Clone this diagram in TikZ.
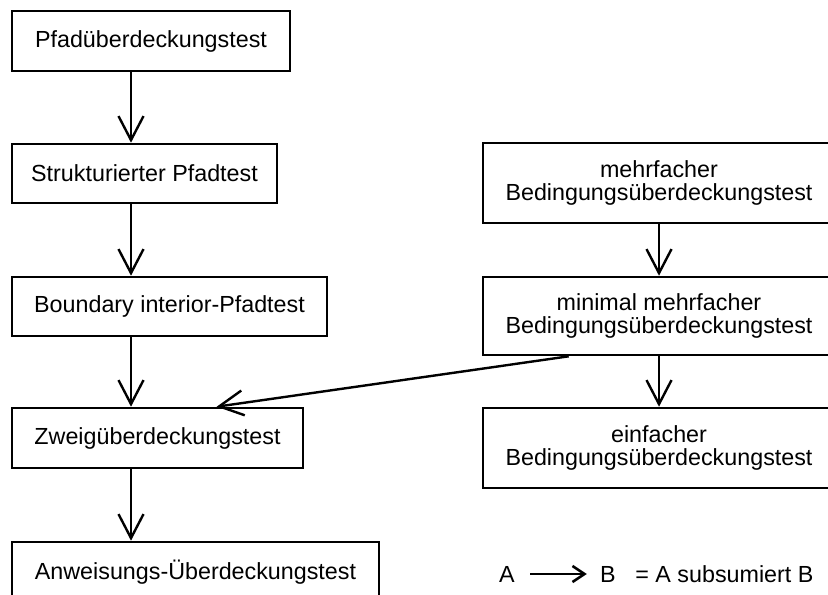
\documentclass[tikz,border=0pt]{standalone}
\usepackage{fontspec}
\setmainfont{Liberation Sans}
\usetikzlibrary{arrows.meta,calc}

\tikzset{
  box/.style={draw, line width=1.3pt, rectangle, inner sep=0pt, align=center,
    font=\fontsize{11.65}{11.8}\selectfont},
  sub/.style={line width=1.2pt, -{Straight Barb[length=12pt,width=12.5pt,line width=1.2pt]}},
  legtext/.style={inner sep=0pt, anchor=base, font=\fontsize{11.65}{11.8}\selectfont},
  legarrow/.style={line width=1.2pt, -{Straight Barb[length=6pt,width=8pt,line width=1.3pt]}}
}

\begin{document}
\begin{tikzpicture}[x=0.5pt, y=-0.5pt]
  \useasboundingbox (0,0) rectangle (828,594);
  \clip (0,0) rectangle (828,594);

  % left column
  \node[box, minimum width=139pt, minimum height=30pt]   (pfad)  at (151,41)    {Pfadüberdeckungstest};
  \node[box, minimum width=132.5pt, minimum height=29.5pt] (strukt) at (144.5,173.5) {Strukturierter Pfadtest};
  \node[box, minimum width=157.5pt, minimum height=29.5pt] (bound) at (169.5,306.5) {Boundary interior-Pfadtest};
  \node[box, minimum width=145.5pt, minimum height=30pt] (zweig) at (157.5,438)  {Zweigüberdeckungstest};
  \node[box, minimum width=183.5pt, minimum height=30pt] (anw)   at (195.5,572)  {Anweisungs-Überdeckungstest};

  % right column
  \node[box, minimum width=176pt, minimum height=40pt]   (mehr)  at (659,183) {mehrfacher\\Bedingungsüberdeckungstest};
  \node[box, minimum width=176pt, minimum height=39pt]   (mmehr) at (659,316) {minimal mehrfacher\\Bedingungsüberdeckungstest};
  \node[box, minimum width=176pt, minimum height=40pt]   (einf)  at (659,448) {einfacher\\Bedingungsüberdeckungstest};

  % subsumption arrows
  \coordinate (lcol) at (131,0);
  \draw[sub] (pfad.south -| lcol)   -- (strukt.north -| lcol);
  \draw[sub] (strukt.south -| lcol) -- (bound.north -| lcol);
  \draw[sub] (bound.south -| lcol)  -- (zweig.north -| lcol);
  \draw[sub] (zweig.south -| lcol)  -- (anw.north -| lcol);

  \draw[sub] (mehr.south)  -- (mmehr.north);
  \draw[sub] (mmehr.south) -- (einf.north);
  \draw[sub] ($(mmehr.south west)+(87,0)$) -- ($(zweig.north west)+(206,0)$);

  % legend
  \node[legtext] (la) at (507,582) {A};
  \node[legtext] (lb) at (608,582) {B};
  \node[legtext, anchor=base west] (lt) at (635,582) {= A subsumiert B};
  \draw[legarrow, shorten <=7.5pt, shorten >=6.5pt] (la.east) -- (lb.west);
\end{tikzpicture}
\end{document}
